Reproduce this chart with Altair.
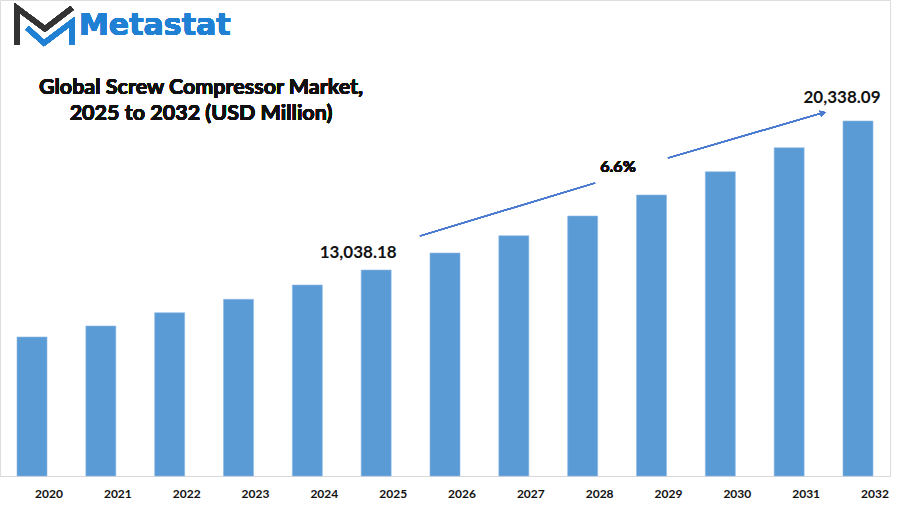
import altair as alt
import pandas as pd

years = ["2020", "2021", "2022", "2023", "2024", "2025", "2026",
         "2027", "2028", "2029", "2030", "2031", "2032"]
values = [9756, 10295, 10946, 11603, 12303, 13038.18, 13871,
          14718, 15683, 16712, 17854, 19029, 20338.09]
label_years = ["2025", "2032"]
label_texts = ["13,038.18", "20,338.09"]
cagr_text = "6.6%"
title_lines = ["Global Screw Compressor Market,", "2025 to 2032 (USD Million)"]
brand = "Metastat"

YMIN, YMAX = 2946, 26266
FONT = "Lato"

df = pd.DataFrame({"year": years, "value": values})
lab = pd.DataFrame({
    "year": label_years,
    "value": [values[years.index(y)] for y in label_years],
    "label": label_texts,
})

xscale = alt.Scale(domain=years, paddingInner=0.564, paddingOuter=0.247)
yscale = alt.Scale(domain=[YMIN, YMAX], zero=False, nice=False)

bars = alt.Chart(df).mark_bar(color="#5b9bd5", stroke="#8fbbe6", strokeWidth=0.6).encode(
    x=alt.X("year:N", scale=xscale, sort=years,
            axis=alt.Axis(title=None, labelAngle=0, ticks=False, labelOffset=17,
                          labelPadding=12, labelFont=FONT, labelFontSize=12,
                          labelFontWeight="bold", labelColor="#111111",
                          domainColor="#d9d9d9", domainWidth=1, grid=False)),
    y=alt.Y("value:Q", scale=yscale, axis=None),
    y2=alt.datum(YMIN),
)

vlabels = alt.Chart(lab).encode(
    x=alt.X("year:N", scale=xscale, sort=years),
    y=alt.Y("value:Q", scale=yscale),
    text="label:N",
)
lab1 = vlabels.transform_filter(alt.datum.year == "2025").mark_text(
    font=FONT, fontSize=17, fontWeight="bold", color="#111111", baseline="middle", dx=-18, dy=-17)
lab2 = vlabels.transform_filter(alt.datum.year == "2032").mark_text(
    font=FONT, fontSize=17, fontWeight="bold", color="#111111", baseline="middle", dx=-16, dy=-23)

ARROW = "#4a7bd0"
seg1 = alt.Chart(df).mark_rule(color=ARROW, strokeWidth=1.2).encode(
    x=alt.value(420), y=alt.value(236), x2=alt.value(595), y2=alt.value(183))
seg2 = alt.Chart(df).mark_rule(color=ARROW, strokeWidth=1.2).encode(
    x=alt.value(668), y=alt.value(158), x2=alt.value(822), y2=alt.value(113))
head = alt.Chart(df).mark_point(shape="triangle-right", filled=True, color=ARROW,
                                size=40, angle=343.8, opacity=1).encode(
    x=alt.value(823), y=alt.value(113))
cagr = alt.Chart(df).mark_text(text=cagr_text, font=FONT, fontSize=16, fontWeight="bold",
                               color="#111111").encode(x=alt.value(618), y=alt.value(167))

title = alt.Chart(df).mark_text(text=title_lines, font=FONT, fontSize=21.5, fontWeight="bold",
                                color="#111111", lineHeight=26, baseline="middle",
                                align="center").encode(x=alt.value(201), y=alt.value(88))

brand_txt = alt.Chart(df).mark_text(text=brand, font="DejaVu Sans", fontSize=30,
                                    fontWeight="bold", color="#1f80d4", align="left",
                                    baseline="middle").encode(x=alt.value(79), y=alt.value(26))

dark_path = "M -0.93 0.67 L -0.93 -0.63 L 0.05 0.1 L 1.0 -0.63"
blue_path = "M -0.58 0.07 L 0.02 0.6 L 1.0 -0.14 L 1.0 0.67"
icon_dark = alt.Chart(df).mark_point(shape=dark_path, filled=False, stroke="#333333",
                                     strokeWidth=5, size=3249, opacity=1,
                                     strokeJoin="miter").encode(x=alt.value(43.5), y=alt.value(26))
icon_blue = alt.Chart(df).mark_point(shape=blue_path, filled=False, stroke="#1f80d4",
                                     strokeWidth=5, size=3249, opacity=1,
                                     strokeJoin="miter").encode(x=alt.value(43.5), y=alt.value(26))

chart = alt.layer(bars, lab1, lab2, seg1, seg2, head, cagr, title, brand_txt,
                  icon_dark, icon_blue).properties(
    width=890, height=476,
    padding={"left": 0, "top": 0, "right": 11, "bottom": 32},
    autosize=alt.AutoSizeParams(type="none"),
).configure_view(stroke=None).configure(background="white")

chart.save("out.html", embed_options={"renderer": "svg", "actions": False})
